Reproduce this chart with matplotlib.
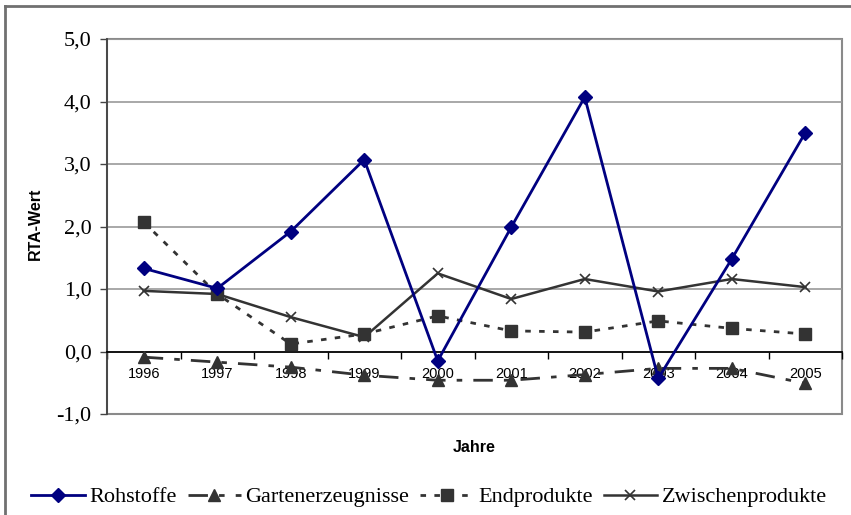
import numpy as np
import matplotlib
matplotlib.use("Agg")
import matplotlib.pyplot as plt
from matplotlib.lines import Line2D
from matplotlib.patches import Rectangle
from matplotlib.ticker import FuncFormatter

jahre = ["1996", "1997", "1998", "1999", "2000", "2001", "2002", "2003", "2004", "2005"]
rohstoffe = [1.33, 1.01, 1.92, 3.07, -0.15, 1.99, 4.07, -0.43, 1.48, 3.50]
garten = [-0.09, -0.17, -0.25, -0.38, -0.46, -0.46, -0.37, -0.27, -0.27, -0.51]
endprodukte = [2.07, 0.92, 0.12, 0.28, 0.57, 0.33, 0.31, 0.49, 0.37, 0.28]
zwischen = [0.97, 0.92, 0.55, 0.23, 1.25, 0.84, 1.16, 0.96, 1.16, 1.03]

fig = plt.figure(figsize=(8.51, 5.15), dpi=100)
ax = fig.add_axes([107/851, 1-414/515, (842-107)/851, (414-39)/515])
x = np.arange(len(jahre))
serif = "Liberation Serif"
sans = "Liberation Sans"

# gitter
for v in [1, 2, 3, 4, 5]:
    ax.axhline(v, color="#9a9a9a", lw=1.2, zorder=1)

ax.plot(x, rohstoffe, color="#000080", lw=2, marker="D", ms=7.5, label="Rohstoffe", zorder=5)
ax.plot(x, garten, color="#333333", lw=2, marker="^", ms=9, dashes=(7, 4, 2, 4), label="Gartenerzeugnisse", zorder=4)
ax.plot(x, endprodukte, color="#333333", lw=2, marker="s", ms=9, dashes=(2, 3), label="Endprodukte", zorder=4)
ax.plot(x, zwischen, color="#333333", lw=1.8, marker="x", ms=7, mew=1.2, label="Zwischenprodukte", zorder=3)

ax.set_xlim(-0.5, 9.5)
ax.set_ylim(-1, 5)
ax.set_yticks([-1, 0, 1, 2, 3, 4, 5])
ax.yaxis.set_major_formatter(FuncFormatter(lambda v, p: ("%.1f" % v).replace(".", ",")))
ax.tick_params(axis="y", length=5, width=1, color="#444444", pad=6, labelsize=16)
for t in ax.get_yticklabels():
    t.set_fontfamily(serif)

ax.spines["bottom"].set_position(("data", 0))
ax.spines["bottom"].set_color("black")
ax.spines["bottom"].set_linewidth(1.3)
ax.spines["left"].set_color("#444444")
ax.spines["left"].set_linewidth(1.3)
ax.spines["top"].set_visible(False)
ax.spines["right"].set_visible(False)
ax.add_patch(Rectangle((0, 0), 1, 1, transform=ax.transAxes, fill=False,
                       edgecolor="#8a8a8a", lw=1.5, clip_on=False, zorder=0))

ax.set_xticks(x)
ax.set_xticklabels(jahre, fontfamily=sans, fontsize=10.5)
ax.set_xticks(np.arange(-0.5, 10, 1), minor=True)
ax.tick_params(axis="x", which="major", length=0, pad=11)
ax.tick_params(axis="x", which="minor", length=5, width=1, color="black", direction="out")

fig.text(35/851, 1-224/515, "RTA-Wert", rotation=90, ha="center", va="center",
         fontfamily=sans, fontweight="bold", fontsize=11.5)
fig.text(474/851, 1-448/515, "Jahre", ha="center", va="center",
         fontfamily=sans, fontweight="bold", fontsize=11.5)

leg = fig.legend(loc="center", bbox_to_anchor=(429/851, 1-497/515), ncol=4, frameon=False,
                 prop={"family": serif, "size": 16}, handlelength=2.4, handletextpad=0.2,
                 columnspacing=0.5)

# aeusserer rahmen
fig.add_artist(Line2D([5/851, 1], [1-5.5/515, 1-5.5/515], color="#707070", lw=2, transform=fig.transFigure))
fig.add_artist(Line2D([5/851, 5/851], [0, 1-5.5/515], color="#707070", lw=2, transform=fig.transFigure))

fig.savefig("out.png", dpi=100)
